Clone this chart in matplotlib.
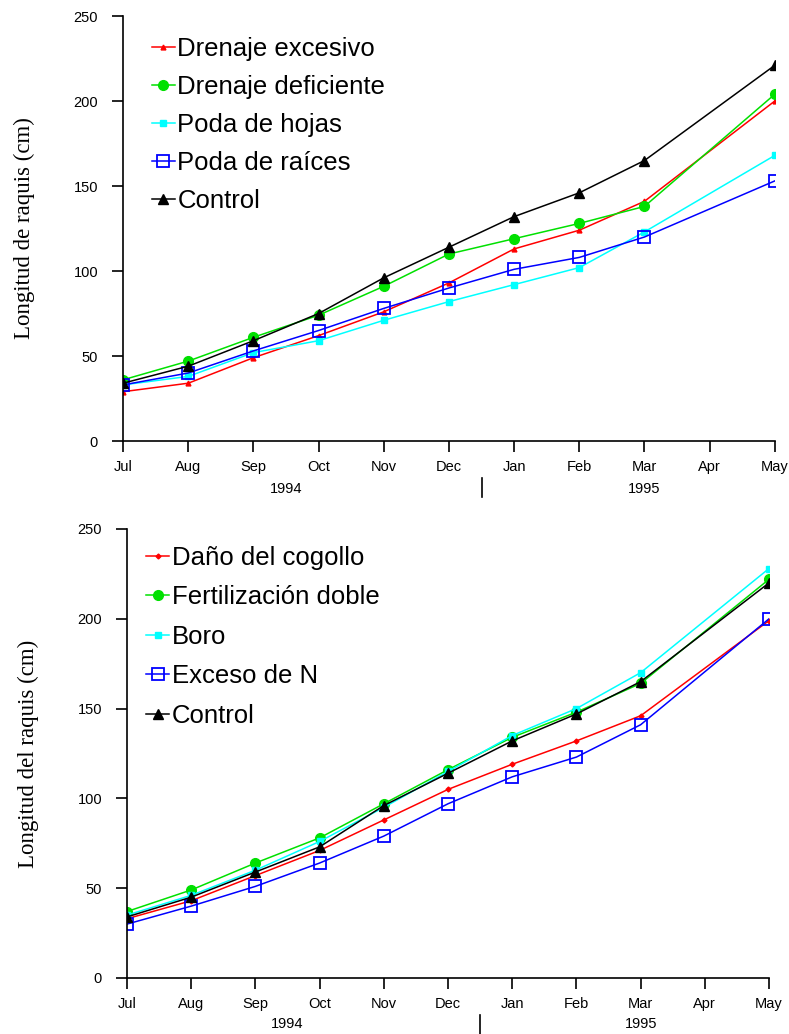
import matplotlib
matplotlib.use("Agg")
import matplotlib.pyplot as plt
import numpy as np
from matplotlib.transforms import blended_transform_factory

months = ["Jul", "Aug", "Sep", "Oct", "Nov", "Dec", "Jan", "Feb", "Mar", "Apr", "May"]
x_idx = [0, 1, 2, 3, 4, 5, 6, 7, 8, 10]  # no April measurement

# Top chart
top_labels = ["Drenaje excesivo", "Drenaje deficiente", "Poda de hojas", "Poda de raíces", "Control"]
drenaje_excesivo = [29, 34, 49, 62, 76, 93, 113, 124, 141, 200]
drenaje_deficiente = [36, 47, 61, 74, 91, 110, 119, 128, 138, 204]
poda_hojas = [33, 38, 52, 59, 71, 82, 92, 102, 123, 168]
poda_raices = [33, 40, 53, 65, 78, 90, 101, 108, 120, 153]
control_top = [34, 44, 59, 75, 96, 114, 132, 146, 165, 221]

# Bottom chart
bot_labels = ["Daño del cogollo", "Fertilización doble", "Boro", "Exceso de N", "Control"]
dano_cogollo = [33, 43, 57, 71, 88, 105, 119, 132, 146, 199]
fert_doble = [37, 49, 64, 78, 97, 116, 134, 148, 164, 222]
boro = [35, 46, 60, 76, 95, 115, 135, 150, 170, 228]
exceso_n = [30, 40, 51, 64, 79, 97, 112, 123, 141, 200]
control_bot = [34, 45, 59, 73, 96, 114, 132, 147, 165, 220]

years = ["1994", "1995"]

plt.rcParams['font.family'] = ['Liberation Sans', 'DejaVu Sans']

fig = plt.figure(figsize=(7.89, 10.34), dpi=100)
ax1 = fig.add_axes([0.156, 0.5735, 0.826, 0.411])
ax2 = fig.add_axes([0.161, 0.0542, 0.8137, 0.4342])

styles_top = [
    dict(color="#ff0000", marker="^", ms=3.5, mfc="#ff0000", mec="#ff0000"),
    dict(color="#00e000", marker="o", ms=7, mfc="#00e000", mec="#00e000"),
    dict(color="#00ffff", marker="s", ms=5, mfc="#00ffff", mec="#00ffff"),
    dict(color="#0000ff", marker="s", ms=8, mfc="none", mec="#0000ff", mew=1.3),
    dict(color="#000000", marker="^", ms=6.5, mfc="#000000", mec="#000000"),
]
styles_bot = [
    dict(color="#ff0000", marker="D", ms=2.5, mfc="#ff0000", mec="#ff0000"),
    dict(color="#00e000", marker="o", ms=7, mfc="#00e000", mec="#00e000"),
    dict(color="#00ffff", marker="s", ms=5, mfc="#00ffff", mec="#00ffff"),
    dict(color="#0000ff", marker="s", ms=8, mfc="none", mec="#0000ff", mew=1.3),
    dict(color="#000000", marker="^", ms=6.5, mfc="#000000", mec="#000000"),
]


def draw(ax, series, labels, styles, ylabel, lspace, leg_anchor, year_off):
    for s, lab, st in zip(series, labels, styles):
        ax.plot(x_idx, s, lw=1.1, label=lab, **st)
    ax.set_xlim(0, 10)
    ax.set_ylim(0, 250)
    ax.set_yticks([0, 50, 100, 150, 200, 250])
    ax.set_xticks(range(len(months)))
    ax.set_xticklabels(months)
    for sp in ["top", "right"]:
        ax.spines[sp].set_visible(False)
    for sp in ["left", "bottom"]:
        ax.spines[sp].set_linewidth(1.2)
    ax.tick_params(direction="out", length=8, width=1.2, labelsize=10.5, pad=6)
    ax.tick_params(axis="y", pad=10)
    ax.set_ylabel(ylabel, family="Liberation Serif", fontsize=16.5, labelpad=28)
    ax.legend(loc="upper left", bbox_to_anchor=leg_anchor, frameon=False,
              fontsize=18.5, handlelength=0.9, handletextpad=0.1,
              labelspacing=lspace, borderaxespad=0.0)
    trans = blended_transform_factory(ax.transData, ax.transAxes)
    for xv, yr in zip([2.5, 8.0], years):
        ax.annotate(yr, xy=(xv, 0), xycoords=trans, xytext=(0, -year_off),
                    textcoords="offset pixels", ha="center", va="center",
                    fontsize=10.5, annotation_clip=False)


draw(ax1, [drenaje_excesivo, drenaje_deficiente, poda_hojas, poda_raices, control_top],
     top_labels, styles_top, "Longitud de raquis (cm)", 0.55, (0.028, 0.975), 48)
draw(ax2, [dano_cogollo, fert_doble, boro, exceso_n, control_bot],
     bot_labels, styles_bot, "Longitud del raquis (cm)", 0.6, (0.014, 0.985), 46)

# year separators as vertical ticks below the month labels (in pixel offsets)
for ax in (ax1, ax2):
    x_disp = ax.transData.transform((5.5, 0))[0]
    y0 = ax.transAxes.transform((0, 0))[1]
    fig_h = fig.bbox.height
    fig.add_artist(plt.Line2D([x_disp / fig.bbox.width] * 2,
                              [(y0 - 37) / fig_h, (y0 - 56) / fig_h],
                              transform=fig.transFigure, color="black", lw=1.2))

fig.savefig("out.png", dpi=100)
